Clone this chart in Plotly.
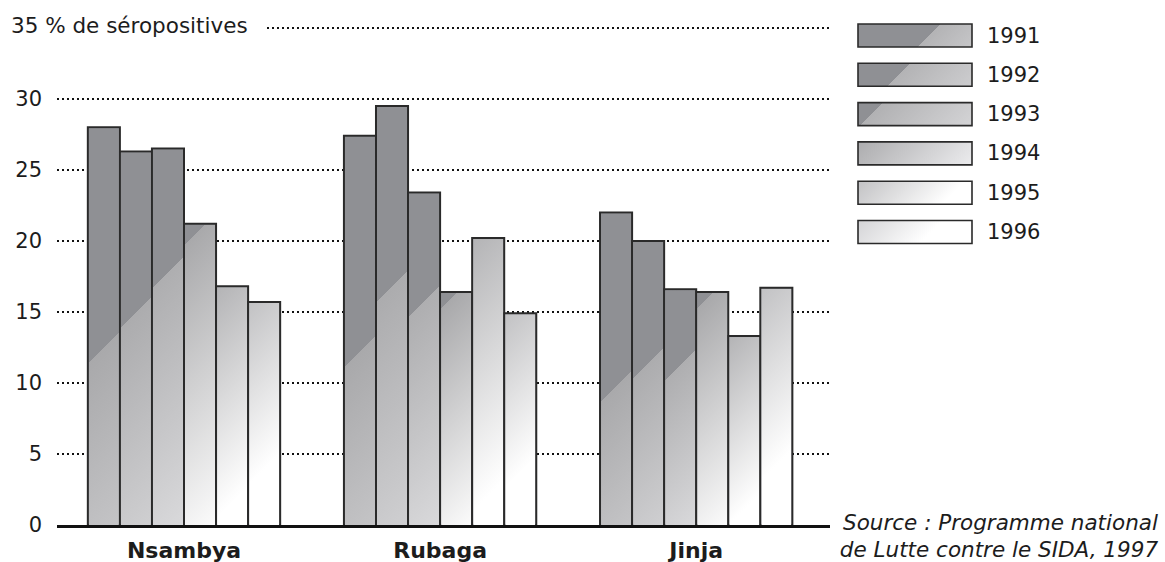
import base64
import plotly.graph_objects as go

# ---- data -------------------------------------------------------------
sites = ["Nsambya", "Rubaga", "Jinja"]
years = ["1991", "1992", "1993", "1994", "1995", "1996"]

v1991 = [28.0, 27.4, 22.0]
v1992 = [26.3, 29.5, 20.0]
v1993 = [26.5, 23.4, 16.6]
v1994 = [21.2, 16.4, 16.4]
v1995 = [16.8, 20.2, 13.3]
v1996 = [15.7, 14.9, 16.7]
series = [v1991, v1992, v1993, v1994, v1995, v1996]

y_ticks = [0, 5, 10, 15, 20, 25, 30, 35]
y_title = "35 % de séropositives"
source_lines = ["Source : Programme national", " de Lutte contre le SIDA, 1997"]

# ---- styling ----------------------------------------------------------
FONT = "DejaVu Sans"
INK = "#1c1c1c"
DARK = "#8f9094"
# per-year diagonal fill: (end of dark zone, first light tone, last tone, where last tone is reached)
fills = [
    (0.55, "#a9a9ab", "#c4c4c6", 1.00),
    (0.435, "#acacae", "#cfcfd1", 1.00),
    (0.34, "#aeaeb0", "#d9d9db", 1.00),
    (0.06, "#a9a9ab", "#fbfbfb", 1.00),
    (0.0, "#b4b4b6", "#ffffff", 0.86),
    (0.0, "#c2c2c4", "#ffffff", 0.72),
]
# the key swatches are long and flat, so their dark zones sit a little differently
key_fills = [
    (0.60, "#b3b3b5", "#c6c6c8", 1.00),
    (0.38, "#b3b3b5", "#cdcdcf", 1.00),
    (0.18, "#b1b1b3", "#d4d4d6", 1.00),
    (0.0, "#acacae", "#ececee", 1.00),
    (0.0, "#c2c2c4", "#ffffff", 0.78),
    (0.0, "#d4d4d6", "#ffffff", 0.62),
]

W_FIG, H_FIG = 1165, 562
Y_TOP = 35.2
PX_Y = 497 / 35.0
M_L, M_R, M_B = 57, 335, 37
M_T = round(28 - (Y_TOP - 35) * PX_Y)
PLOT_W = W_FIG - M_L - M_R
PLOT_H = H_FIG - M_T - M_B
GROUP_PX = 256.1
X0 = -(184 - M_L) / GROUP_PX
X_RANGE = [X0, X0 + PLOT_W / GROUP_PX]
Y_RANGE = [0, Y_TOP]
BARGAP = 0.249
NB = len(years)
BW = (1 - BARGAP) / NB

PX_X = PLOT_W / (X_RANGE[1] - X_RANGE[0])
PX_Y = PLOT_H / (Y_RANGE[1] - Y_RANGE[0])


def xp(px):
    return (px - M_L) / PLOT_W


def yp(py):
    return (M_T + PLOT_H - py) / PLOT_H


def gradient_uri(w, h, fill):
    dark_end, c1, c2, t_end = fill
    stops = []
    if dark_end > 0:
        stops.append((0.0, DARK))
        stops.append((dark_end, DARK))
    stops.append((dark_end, c1))
    stops.append((t_end, c2))
    if t_end < 1:
        stops.append((1.0, c2))
    a = (w + h) / 2.0
    stop_xml = "".join(
        f'<stop offset="{o:.4f}" stop-color="{c}"/>' for o, c in stops
    )
    svg = (
        f'<svg xmlns="http://www.w3.org/2000/svg" width="{w:.2f}" height="{h:.2f}" '
        f'viewBox="0 0 {w:.2f} {h:.2f}" preserveAspectRatio="none">'
        f'<defs><linearGradient id="g" gradientUnits="userSpaceOnUse" '
        f'x1="0" y1="0" x2="{a:.2f}" y2="{a:.2f}">{stop_xml}</linearGradient></defs>'
        f'<rect x="0" y="0" width="{w:.2f}" height="{h:.2f}" fill="url(#g)"/></svg>'
    )
    return "data:image/svg+xml;base64," + base64.b64encode(svg.encode()).decode()


fig = go.Figure()
images = []
x_pos = list(range(len(sites)))

for j, (yr, vals) in enumerate(zip(years, series)):
    fig.add_trace(go.Bar(
        x=x_pos, y=vals, name=yr,
        marker=dict(color=DARK, line=dict(color="#2a2a2a", width=2)),
        showlegend=False,
    ))
    # diagonal shading laid over each bar, inset so the outline stays visible
    in_x = 1.0 / PX_X
    in_y = 1.0 / PX_Y
    for i, v in enumerate(vals):
        left = i - (1 - BARGAP) / 2 + j * BW
        w_px = BW * PX_X - 2
        h_px = v * PX_Y - 1
        images.append(dict(
            source=gradient_uri(w_px, h_px, fills[j]),
            xref="x", yref="y",
            x=left + in_x, y=v - in_y,
            sizex=BW - 2 * in_x, sizey=v - in_y,
            xanchor="left", yanchor="top",
            sizing="stretch", layer="above",
        ))

# legend swatches
shapes = []
annotations = []
SW_L, SW_R, SW_H, SW_TOP, SW_STEP = 858, 972, 23, 24, 39.3
for j, yr in enumerate(years):
    top = SW_TOP + j * SW_STEP
    images.append(dict(
        source=gradient_uri(SW_R - SW_L, SW_H, key_fills[j]),
        xref="paper", yref="paper",
        x=xp(SW_L), y=yp(top), sizex=(SW_R - SW_L) / PLOT_W, sizey=SW_H / PLOT_H,
        xanchor="left", yanchor="top", sizing="stretch", layer="above",
    ))
    shapes.append(dict(
        type="rect", xref="paper", yref="paper", layer="above",
        x0=xp(SW_L), x1=xp(SW_R), y0=yp(top), y1=yp(top + SW_H),
        line=dict(color="#2a2a2a", width=1.6), fillcolor="rgba(0,0,0,0)",
    ))
    annotations.append(dict(
        text=yr, xref="paper", yref="paper", x=xp(985), y=yp(top + SW_H / 2),
        xanchor="left", yanchor="middle", showarrow=False,
        font=dict(family=FONT, size=21, color=INK),
    ))

# top label of the value axis, masking the start of the 35 gridline
annotations.append(dict(
    text=y_title, xref="paper", yref="paper", x=xp(10), y=yp(25),
    xanchor="left", yanchor="middle", showarrow=False, align="left",
    width=254, bgcolor="white", borderpad=0,
    font=dict(family=FONT, size=21.5, color=INK),
))

# source note
for k, line in enumerate(source_lines):
    annotations.append(dict(
        text=f"<i>{line}</i>", xref="paper", yref="paper",
        x=xp(1160), y=yp(522 + 27 * k), xanchor="right", yanchor="middle",
        showarrow=False, font=dict(family=FONT, size=21.5, color=INK),
    ))

fig.update_layout(
    width=W_FIG, height=H_FIG,
    margin=dict(l=M_L, r=M_R, t=M_T, b=M_B, pad=0, autoexpand=False),
    paper_bgcolor="white", plot_bgcolor="white",
    barmode="group", bargap=BARGAP, bargroupgap=0,
    images=images, shapes=shapes, annotations=annotations,
    font=dict(family=FONT, color=INK),
    xaxis=dict(
        range=X_RANGE, tickvals=x_pos, automargin=False,
        ticktext=[f"<b>{s}</b>" for s in sites],
        tickfont=dict(family=FONT, size=22, color=INK),
        showgrid=False, zeroline=False,
        showline=True, linecolor="#111111", linewidth=3,
        ticks="", ticklabelstandoff=4,
    ),
    yaxis=dict(
        range=Y_RANGE, tickvals=y_ticks, automargin=False,
        ticktext=[str(t) if t < 35 else "" for t in y_ticks],
        tickfont=dict(family=FONT, size=21, color=INK),
        showgrid=True, gridcolor="#111111", gridwidth=2.4, griddash="2.4px,2.6px",
        zeroline=False, showline=False, ticks="", ticklabelstandoff=14,
    ),
)

fig.write_html("out.html")
